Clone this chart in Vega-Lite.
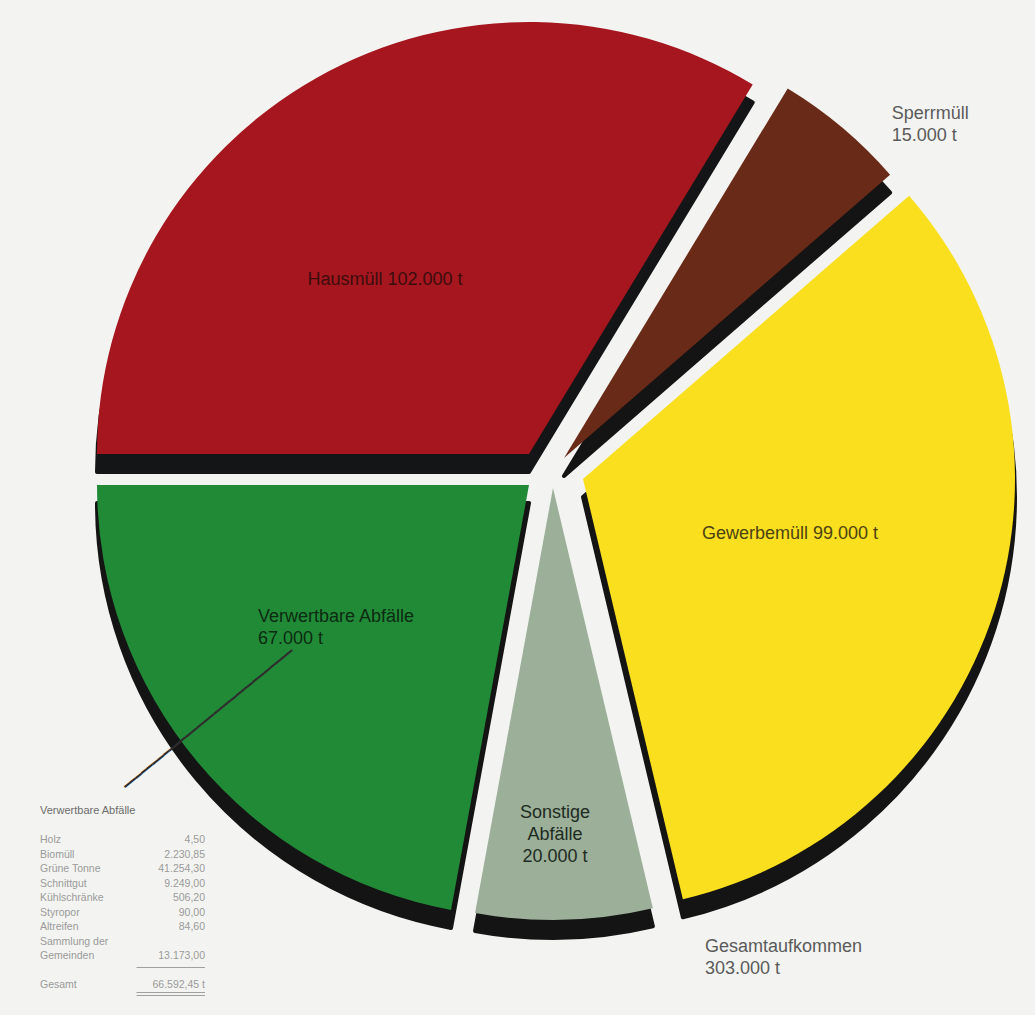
{
  "$schema": "https://vega.github.io/schema/vega-lite/v6.json",
  "width": 1035,
  "height": 1015,
  "autosize": {"type": "none"},
  "padding": 0,
  "background": "#F3F4F1",
  "config": {
    "view": {"stroke": null},
    "locale": {"number": {"decimal": ",", "thousands": ".", "grouping": [3], "currency": ["", "\u00a0t"]}},
    "text": {"font": "Liberation Sans"}
  },
  "layer": [
    {
      "data": {"values": [
        {"Kategorie": "Hausmüll", "t": 102000, "n": 1},
        {"Kategorie": "Sperrmüll", "t": 15000, "n": 2},
        {"Kategorie": "Gewerbemüll", "t": 99000, "n": 3},
        {"Kategorie": "Sonstige Abfälle", "t": 20000, "n": 4},
        {"Kategorie": "Verwertbare Abfälle", "t": 67000, "n": 5}
      ]},
      "encoding": {
        "theta": {"field": "t", "type": "quantitative", "stack": true, "scale": {"range": [4.71238898, 10.99557429]}},
        "order": {"field": "n", "type": "quantitative"}
      },
      "layer": [
        {"mark": {"type": "arc", "radius": 432, "fill": "#141517", "stroke": "#141517", "strokeWidth": 4, "strokeJoin": "round", "xOffset": 11.5, "yOffset": -35.5},
         "encoding": {"opacity": {"condition": {"test": "datum.n === 1", "value": 1}, "value": 0}}},
        {"mark": {"type": "arc", "radius": 432, "fill": "#141414", "stroke": "#141414", "strokeWidth": 4, "strokeJoin": "round", "xOffset": 46.5, "yOffset": -31.5},
         "encoding": {"opacity": {"condition": {"test": "datum.n === 2", "value": 1}, "value": 0}}},
        {"mark": {"type": "arc", "radius": 432, "fill": "#141414", "stroke": "#141414", "strokeWidth": 4, "strokeJoin": "round", "xOffset": 65.5, "yOffset": -10.5},
         "encoding": {"opacity": {"condition": {"test": "datum.n === 3", "value": 1}, "value": 0}}},
        {"mark": {"type": "arc", "radius": 432, "fill": "#141414", "stroke": "#141414", "strokeWidth": 4, "strokeJoin": "round", "xOffset": 35.5, "yOffset": -1.5},
         "encoding": {"opacity": {"condition": {"test": "datum.n === 4", "value": 1}, "value": 0}}},
        {"mark": {"type": "arc", "radius": 432, "fill": "#141414", "stroke": "#141414", "strokeWidth": 4, "strokeJoin": "round", "xOffset": 11.5, "yOffset": -4.5},
         "encoding": {"opacity": {"condition": {"test": "datum.n === 5", "value": 1}, "value": 0}}},

        {"mark": {"type": "arc", "radius": 432, "fill": "#A5161E", "xOffset": 11.5, "yOffset": -53.5},
         "encoding": {"opacity": {"condition": {"test": "datum.n === 1", "value": 1}, "value": 0}}},
        {"mark": {"type": "arc", "radius": 432, "fill": "#6A2A18", "xOffset": 46.5, "yOffset": -49.5},
         "encoding": {"opacity": {"condition": {"test": "datum.n === 2", "value": 1}, "value": 0}}},
        {"mark": {"type": "arc", "radius": 432, "fill": "#FADF1E", "xOffset": 65.5, "yOffset": -28.5},
         "encoding": {"opacity": {"condition": {"test": "datum.n === 3", "value": 1}, "value": 0}}},
        {"mark": {"type": "arc", "radius": 432, "fill": "#9CAF99", "xOffset": 35.5, "yOffset": -19.5},
         "encoding": {"opacity": {"condition": {"test": "datum.n === 4", "value": 1}, "value": 0}}},
        {"mark": {"type": "arc", "radius": 432, "fill": "#218A37", "xOffset": 11.5, "yOffset": -22.5},
         "encoding": {"opacity": {"condition": {"test": "datum.n === 5", "value": 1}, "value": 0}}},

        {"mark": {"type": "text", "font": "DejaVu Sans", "fontSize": 12, "radius": 372.8, "dx": 0, "dy": -35.6, "angle": -39.3, "align": "center", "baseline": "middle", "fill": "#2e2e2e"},
         "encoding": {"text": {"condition": {"test": "datum.n === 5", "value": "━━━━━━━━━━━━━━━━━━━━━━━━━━━━━━"}, "value": ""}}},

        {"mark": {"type": "text", "radius": 264.9, "dx": -2.5, "dy": 3, "align": "center", "baseline": "middle", "fontSize": 18, "fill": "#3b0d0e", "lineBreak": "\n", "lineHeight": 22},
         "encoding": {"text": {"condition": {"test": "datum.n === 1", "value": "Hausmüll 102.000 t"}, "value": ""}}},
        {"mark": {"type": "text", "radius": 534.5, "dx": 30, "dy": 15, "align": "left", "baseline": "middle", "fontSize": 18, "fill": "#5a5a5a", "lineBreak": "\n", "lineHeight": 22},
         "encoding": {"text": {"condition": {"test": "datum.n === 2", "value": "Sperrmüll\n15.000 t"}, "value": ""}}},
        {"mark": {"type": "text", "radius": 266.9, "dx": 18.4, "dy": -55.5, "align": "center", "baseline": "middle", "fontSize": 18, "fill": "#4d4212", "lineBreak": "\n", "lineHeight": 22},
         "encoding": {"text": {"condition": {"test": "datum.n === 3", "value": "Gewerbemüll 99.000 t"}, "value": ""}}},
        {"mark": {"type": "text", "radius": 326.4, "dx": 29, "dy": -21, "align": "center", "baseline": "middle", "fontSize": 18, "fill": "#1d2b1f", "lineBreak": "\n", "lineHeight": 22},
         "encoding": {"text": {"condition": {"test": "datum.n === 4", "value": "Sonstige\nAbfälle\n20.000 t"}, "value": ""}}},
        {"mark": {"type": "text", "radius": 275.3, "dx": -48, "dy": -67, "align": "left", "baseline": "middle", "fontSize": 18, "fill": "#0d2a12", "lineBreak": "\n", "lineHeight": 22},
         "encoding": {"text": {"condition": {"test": "datum.n === 5", "value": "Verwertbare Abfälle\n67.000 t"}, "value": ""}}},
        {"mark": {"type": "text", "radius": 453.3, "dx": 175.7, "dy": -14, "align": "left", "baseline": "middle", "fontSize": 18, "fill": "#5a5a5a", "lineBreak": "\n", "lineHeight": 22},
         "encoding": {"text": {"condition": {"test": "datum.n === 4", "value": "Gesamtaufkommen\n303.000 t"}, "value": ""}}}
      ]
    },
    {
      "data": {"values": [
        {"Posten": "Holz", "Menge": 4.5},
        {"Posten": "Biomüll", "Menge": 2230.85},
        {"Posten": "Grüne Tonne", "Menge": 41254.3},
        {"Posten": "Schnittgut", "Menge": 9249.0},
        {"Posten": "Kühlschränke", "Menge": 506.2},
        {"Posten": "Styropor", "Menge": 90.0},
        {"Posten": "Altreifen", "Menge": 84.6},
        {"Posten": "Sammlung der\nGemeinden", "Menge": 13173.0},
        {"Posten": "Gesamt", "Menge": 66592.45}
      ]},
      "layer": [
        {
          "data": {"values": [{"Titel": "Verwertbare Abfälle"}]},
          "mark": {"type": "text", "align": "left", "baseline": "middle", "fontSize": 11, "fill": "#6b6b6b"},
          "encoding": {
            "x": {"datum": "Posten", "type": "nominal", "scale": {"type": "point", "padding": 0, "domain": ["Posten", "Strich", "Menge"], "range": [40, 205]}, "axis": null},
            "y": {"field": "Titel", "type": "nominal", "scale": {"type": "point", "padding": 0, "domain": ["Verwertbare Abfälle", "·1", "Holz", "Biomüll", "Grüne Tonne", "Schnittgut", "Kühlschränke", "Styropor", "Altreifen", "·2", "Sammlung der\nGemeinden", "·3", "Gesamt", "·4"], "range": [811, 999.5]}, "axis": null},
            "text": {"field": "Titel"}
          }
        },
        {
          "transform": [{"filter": "datum.Posten !== 'Sammlung der\\nGemeinden'"}],
          "mark": {"type": "text", "align": "left", "baseline": "middle", "fontSize": 10.5, "fill": "#9a9a9a"},
          "encoding": {
            "x": {"datum": "Posten", "type": "nominal"},
            "y": {"field": "Posten", "type": "nominal"},
            "text": {"field": "Posten"}
          }
        },
        {
          "transform": [{"filter": "datum.Posten === 'Sammlung der\\nGemeinden'"}],
          "mark": {"type": "text", "align": "left", "baseline": "middle", "dy": -14.5, "fontSize": 10.5, "fill": "#9a9a9a", "lineBreak": "\n", "lineHeight": 14.5},
          "encoding": {
            "x": {"datum": "Posten", "type": "nominal"},
            "y": {"field": "Posten", "type": "nominal"},
            "text": {"field": "Posten"}
          }
        },
        {
          "transform": [{"filter": "datum.Posten !== 'Gesamt'"}],
          "mark": {"type": "text", "align": "right", "baseline": "middle", "fontSize": 10.5, "fill": "#9a9a9a"},
          "encoding": {
            "x": {"datum": "Menge", "type": "nominal"},
            "y": {"field": "Posten", "type": "nominal"},
            "text": {"field": "Menge", "type": "quantitative", "format": ",.2f"}
          }
        },
        {
          "transform": [{"filter": "datum.Posten === 'Gesamt'"}],
          "mark": {"type": "text", "align": "right", "baseline": "middle", "fontSize": 10.5, "fill": "#9a9a9a"},
          "encoding": {
            "x": {"datum": "Menge", "type": "nominal"},
            "y": {"field": "Posten", "type": "nominal"},
            "text": {"field": "Menge", "type": "quantitative", "format": "$,.2f"}
          }
        },
        {
          "data": {"values": [{"Linie": "·3"}]},
          "mark": {"type": "rule", "stroke": "#a0a0a0", "strokeWidth": 1, "xOffset": 14, "yOffset": -3},
          "encoding": {
            "x": {"datum": "Strich", "type": "nominal"},
            "x2": {"datum": "Menge"},
            "y": {"field": "Linie", "type": "nominal"}
          }
        },
        {
          "data": {"values": [{"Linie": "·4"}]},
          "mark": {"type": "rule", "stroke": "#a0a0a0", "strokeWidth": 1, "xOffset": 14, "yOffset": -7},
          "encoding": {
            "x": {"datum": "Strich", "type": "nominal"},
            "x2": {"datum": "Menge"},
            "y": {"field": "Linie", "type": "nominal"}
          }
        },
        {
          "data": {"values": [{"Linie": "·4"}]},
          "mark": {"type": "rule", "stroke": "#a0a0a0", "strokeWidth": 1, "xOffset": 14, "yOffset": -4},
          "encoding": {
            "x": {"datum": "Strich", "type": "nominal"},
            "x2": {"datum": "Menge"},
            "y": {"field": "Linie", "type": "nominal"}
          }
        }
      ]
    }
  ]
}
